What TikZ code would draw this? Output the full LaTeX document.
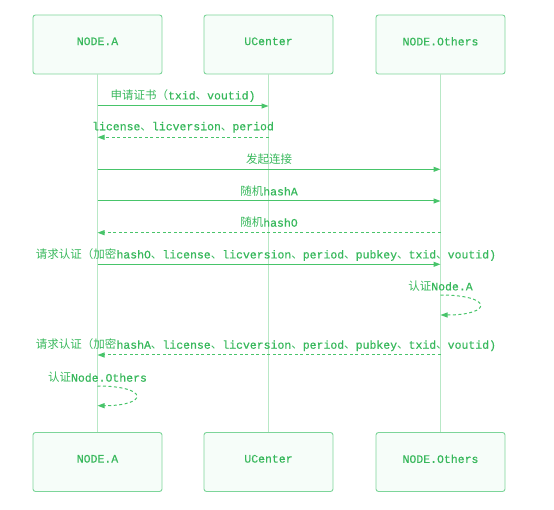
\documentclass[tikz,border=0pt]{standalone}
\usepackage{fontspec}
\setmainfont{Liberation Mono}[RawFeature={embolden=0.5}]
\setmonofont{Liberation Mono}
\newfontfamily\cjk{Noto Sans CJK SC}
\usetikzlibrary{arrows.meta}
\definecolor{gtext}{HTML}{38B85C}
\definecolor{gline}{HTML}{48C46A}
\definecolor{gborder}{HTML}{7DD59A}
\definecolor{gfill}{HTML}{F6FDF9}
\definecolor{glife}{HTML}{B8E8C6}
\tikzset{
  actor/.style={draw=gborder, fill=gfill, line width=0.9pt, rounded corners=2.5pt,
    minimum width=129pt, minimum height=59pt, inner sep=0pt, text=gtext,
    text depth=6.5pt, font=\fontsize{11.5}{13}\selectfont},
  life/.style={draw=glife, line width=0.9pt},
  msg/.style={draw=gline, line width=1pt, -{Triangle[length=7pt,width=5pt]}},
  reply/.style={msg, dash pattern=on 3pt off 2.5pt},
  lbl/.style={text=gtext, font=\fontsize{11.5}{13}\selectfont, inner sep=0pt},
}
\begin{document}
\begin{tikzpicture}[x=1pt,y=-1pt]
\useasboundingbox (0,0) rectangle (554,510);
% actors
\node[actor] (A1) at (97.5,44.5) {NODE.A};
\node[actor] (U1) at (268.5,44.5) {UCenter};
\node[actor] (O1) at (440.5,44.5) {NODE.Others};
\node[actor] (A2) at (97.5,462) {NODE.A};
\node[actor] (U2) at (268.5,462) {UCenter};
\node[actor] (O2) at (440.5,462) {NODE.Others};
% lifelines
\draw[life] (A1.south) -- (A2.north);
\draw[life] (U1.south) -- (U2.north);
\draw[life] (O1.south) -- (O2.north);
% message anchor points
\foreach \n/\y in {1/106,2/137.3,3/169.3,4/201,5/232.7,6/264.3,7/295,8/355,9/386}{
  \coordinate (a\n) at (97.5,\y);
  \coordinate (u\n) at (268.5,\y);
  \coordinate (o\n) at (440.5,\y);
}
\coordinate (o7e) at (440.5,315);
\coordinate (a9e) at (97.5,405.7);
% messages
\draw[msg] (a1) -- (u1);
\node[lbl] (t1) at (183,95.7) {{\cjk 申请证书（}txid{\cjk 、}voutid)};
\draw[reply] (u2) -- (a2);
\node[lbl] (t2) at (183,127.3) {license{\cjk 、}licversion{\cjk 、}period};
\draw[msg] (a3) -- (o3);
\node[lbl] (t3) at (269,159) {\cjk 发起连接};
\draw[msg] (a4) -- (o4);
\node[lbl] (t4) at (269,191) {{\cjk 随机}hashA};
\draw[reply] (o5) -- (a5);
\node[lbl] (t5) at (269,222.3) {{\cjk 随机}hashO};
\draw[msg] (a6) -- (o6);
\node[lbl] (t6) at (266,254.7) {{\cjk 请求认证（加密}hashO{\cjk 、}license{\cjk 、}licversion{\cjk 、}period{\cjk 、}pubkey{\cjk 、}txid{\cjk 、}voutid)};
\draw[reply] (o7) .. controls (493,295) and (493,315) .. (o7e);
\node[lbl] (t7) at (440.5,286) {{\cjk 认证}Node.A};
\draw[reply] (o8) -- (a8);
\node[lbl] (t8) at (266,345) {{\cjk 请求认证（加密}hashA{\cjk 、}license{\cjk 、}licversion{\cjk 、}period{\cjk 、}pubkey{\cjk 、}txid{\cjk 、}voutid)};
\draw[reply] (a9) .. controls (149,386) and (149,405.7) .. (a9e);
\node[lbl] (t9) at (97.5,377.3) {{\cjk 认证}Node.Others};
\end{tikzpicture}
\end{document}
